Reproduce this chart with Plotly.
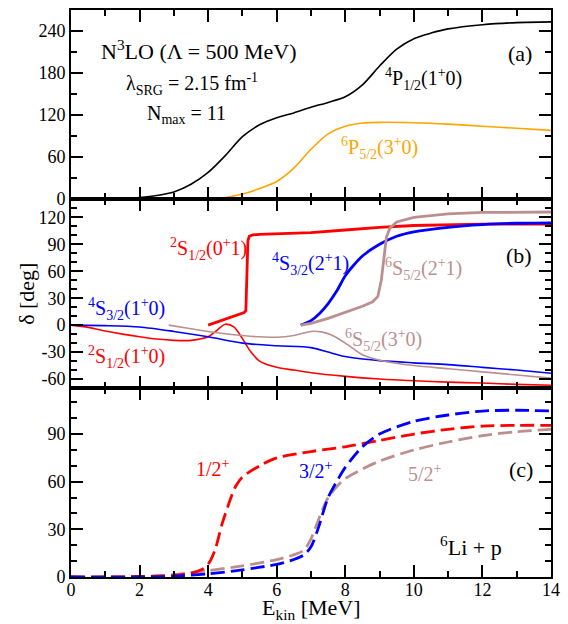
import plotly.graph_objects as go
from plotly.subplots import make_subplots

# ---------------- data ----------------
# Panel (a)
p12_x = [1.5, 2, 2.5, 3, 3.5, 4, 4.5, 5, 5.5, 6, 6.5, 7, 7.5, 8, 8.5, 9, 9.5, 10, 10.5, 11, 12, 13, 14]
p12_y = [0, 2, 5, 10, 21, 38, 62, 89, 106, 116, 123, 131, 138, 146, 163, 190, 214, 229, 237, 243, 249, 252, 253]
p52_x = [4, 4.5, 5, 5.5, 6, 6.5, 7, 7.5, 8, 8.5, 9, 10, 11, 12, 13, 14]
p52_y = [0, 2, 7, 15, 25, 44, 71, 93, 104, 108.5, 109.5, 109, 107, 104, 101, 98]

# Panel (b)
s12_01_x = [4.0, 4.3, 4.6, 4.9, 5.05, 5.1, 5.13, 5.16, 5.2, 5.3, 5.5, 6, 7, 8, 9, 10, 11, 12, 13, 14]
s12_01_y = [0, 4, 8, 12, 14, 16, 50, 94, 99, 100.5, 101, 101.5, 103, 106, 109, 111, 112, 112.5, 112.5, 112.5]
s12_10_x = [0, 0.5, 1, 1.5, 2, 2.5, 3, 3.5, 4, 4.25, 4.5, 4.75, 5, 5.25, 5.5, 6, 6.5, 7, 8, 9, 10, 11, 12, 13, 14]
s12_10_y = [0, -2.5, -6.5, -10, -13, -15.5, -17, -17, -13, -6, 1, -2, -15, -30, -40, -47, -50, -53, -57, -60, -62, -63.5, -64.5, -66, -67]
s32_10_x = [0, 1, 2, 3, 4, 5, 6, 7, 7.5, 8, 9, 10, 11, 12, 13, 14]
s32_10_y = [0, -0.5, -2, -7, -13, -20, -23, -25, -30, -35, -39.5, -42, -44, -47, -50, -53.5]
s52_30_x = [2.85, 3.5, 4, 4.5, 5, 5.5, 6, 6.5, 7, 7.3, 7.6, 8, 8.5, 9, 10, 11, 12, 13, 14]
s52_30_y = [0, -4, -7, -9.5, -11.5, -13, -13.5, -11.5, -7, -7.5, -11, -20, -33, -39, -45, -48.5, -52, -55.5, -59]
s32_21_x = [6.7, 7, 7.25, 7.5, 7.75, 8, 8.25, 8.5, 9, 9.5, 10, 11, 12, 13, 14]
s32_21_y = [0, 5, 13, 24, 38, 55, 67, 77, 90, 99, 104, 109, 112, 113.5, 114]
s52_21_x = [6.7, 7, 7.5, 8, 8.5, 8.8, 8.95, 9.05, 9.12, 9.2, 9.3, 9.5, 10, 11, 12, 13, 14]
s52_21_y = [0, 2, 7.5, 14, 21, 26, 32, 50, 75, 98, 108, 115, 120, 124, 125.5, 126, 126]

# Panel (c)
e12_x = [0, 1, 2, 3, 3.5, 3.8, 4, 4.2, 4.4, 4.6, 4.8, 5, 5.5, 6, 7, 8, 9, 10, 11, 12, 13, 14]
e12_y = [0, 0, 0.3, 1, 2.5, 4.5, 8, 17, 33, 46, 57, 63, 70, 75, 79, 82, 86, 90, 93, 95, 95.5, 95.5]
e32_x = [0, 2, 3, 4, 5, 6, 6.5, 6.8, 7, 7.2, 7.5, 7.8, 8, 8.5, 9, 10, 11, 12, 13, 14]
e32_y = [0, 0, 0.5, 2, 4.5, 8, 11, 14, 19, 30, 50, 62, 69, 82, 90, 98, 102, 104.5, 105, 104.5]
e52_x = [0, 2, 3, 4, 5, 6, 6.5, 6.8, 7, 7.2, 7.5, 7.8, 8, 8.5, 9, 10, 11, 12, 13, 14]
e52_y = [0, 0.3, 1.5, 4, 7, 11, 14, 17, 24, 35, 50, 58, 62, 68, 73, 80, 85, 89, 91.5, 93]

x_ticks = [0, 2, 4, 6, 8, 10, 12, 14]
ya_ticks = [0, 60, 120, 180, 240]
yb_ticks = [-60, -30, 0, 30, 60, 90, 120]
yb_text = ["-60", "-30", "0", "30", "60", "90", "120"]
yc_ticks = [0, 30, 60, 90]

BLACK = "#000000"
ORANGE = "#FFA500"
RED = "#FF0000"
BLUE = "#0000FF"
ROSY = "#BC8F8F"
FONT = "Liberation Serif, Times New Roman, serif"

fig = make_subplots(rows=3, cols=1, shared_xaxes=True, vertical_spacing=0)

def add(x, y, color, width, row, dash="solid", shape="spline"):
    fig.add_trace(go.Scatter(x=x, y=y, mode="lines",
                             line=dict(color=color, width=width, dash=dash, shape=shape, smoothing=0.8),
                             showlegend=False, hoverinfo="skip"), row=row, col=1)

add(p12_x, p12_y, BLACK, 1.6, 1)
add(p52_x, p52_y, ORANGE, 1.6, 1)

add(s12_10_x, s12_10_y, RED, 1.6, 2)
add(s32_10_x, s32_10_y, BLUE, 1.6, 2)
add(s52_30_x, s52_30_y, ROSY, 1.6, 2)
add(s12_01_x, s12_01_y, RED, 2.8, 2, shape="linear")
add(s32_21_x, s32_21_y, BLUE, 2.8, 2)
add(s52_21_x, s52_21_y, ROSY, 2.8, 2, shape="linear")

DASH = "14px,6px"
add(e52_x, e52_y, ROSY, 2.8, 3, dash=DASH)
add(e12_x, e12_y, RED, 2.8, 3, dash=DASH)
add(e32_x, e32_y, BLUE, 2.8, 3, dash=DASH)

axis_common = dict(showline=True, linewidth=2, linecolor="black", mirror="ticks",
                   ticks="inside", ticklen=12, tickwidth=2, tickcolor="black",
                   showgrid=False, zeroline=False,
                   tickfont=dict(family=FONT, size=18, color="black"))

for i in (1, 2, 3):
    fig.update_xaxes(range=[0, 14], tickvals=x_ticks,
                     minor=dict(dtick=1, tick0=0, ticks="inside", ticklen=6, tickwidth=2, tickcolor="black"),
                     **axis_common, row=i, col=1)
fig.update_xaxes(ticklabelstandoff=-5, row=3, col=1)

fig.update_yaxes(range=[0, 270], tickvals=ya_ticks,
                 minor=dict(dtick=30, tick0=0, ticks="inside", ticklen=6, tickwidth=2, tickcolor="black"),
                 **axis_common, row=1, col=1)
fig.update_yaxes(range=[-70, 140.5], tickvals=yb_ticks, ticktext=yb_text,
                 minor=dict(dtick=10, tick0=0, ticks="inside", ticklen=6, tickwidth=2, tickcolor="black"),
                 **axis_common, row=2, col=1)
fig.update_yaxes(range=[0, 119], tickvals=yc_ticks,
                 minor=dict(dtick=10, tick0=0, ticks="inside", ticklen=6, tickwidth=2, tickcolor="black"),
                 **axis_common, row=3, col=1)

def ann(text, x, y, xref, yref, color="black", size=20, **kw):
    fig.add_annotation(text=text, x=x, y=y, xref=xref, yref=yref, showarrow=False,
                       xanchor="center", yanchor="middle",
                       font=dict(family=FONT, size=size, color=color), **kw)

# panel (a)
ann("N<sup>3</sup>LO (Λ = 500 MeV)", 3.72, 213, "x", "y", size=22)
ann("λ<sub>SRG</sub> = 2.15 fm<sup>-1</sup>", 3.52, 165, "x", "y", size=20)
ann("N<sub>max</sub> = 11", 3.37, 121, "x", "y", size=20)
ann("(a)", 13.1, 208, "x", "y", size=22)
ann("<sup>4</sup>P<sub>1/2</sub>(1<sup>+</sup>0)", 10.29, 171, "x", "y", size=20)
ann("<sup>6</sup>P<sub>5/2</sub>(3<sup>+</sup>0)", 9.0, 73, "x", "y", color=ORANGE, size=20)

# panel (b)
ann("<sup>2</sup>S<sub>1/2</sub>(0<sup>+</sup>1)", 4.0, 85, "x2", "y2", color=RED, size=20)
ann("<sup>4</sup>S<sub>3/2</sub>(2<sup>+</sup>1)", 6.99, 68, "x2", "y2", color=BLUE, size=20)
ann("<sup>6</sup>S<sub>5/2</sub>(2<sup>+</sup>1)", 10.28, 63, "x2", "y2", color=ROSY, size=20)
ann("<sup>4</sup>S<sub>3/2</sub>(1<sup>+</sup>0)", 1.62, 18.5, "x2", "y2", color=BLUE, size=20)
ann("<sup>2</sup>S<sub>1/2</sub>(1<sup>+</sup>0)", 1.62, -35, "x2", "y2", color=RED, size=20)
ann("<sup>6</sup>S<sub>5/2</sub>(3<sup>+</sup>0)", 9.1, -16.6, "x2", "y2", color=ROSY, size=20)
ann("(b)", 13.06, 77.6, "x2", "y2", size=22)

# panel (c)
ann("1/2<sup>+</sup>", 4.13, 68.6, "x3", "y3", color=RED, size=20)
ann("3/2<sup>+</sup>", 7.16, 67.5, "x3", "y3", color=BLUE, size=20)
ann("5/2<sup>+</sup>", 10.32, 65.5, "x3", "y3", color=ROSY, size=20)
ann("(c)", 13.13, 67.5, "x3", "y3", size=22)
ann("<sup>6</sup>Li + p", 11.66, 19.3, "x3", "y3", size=22)

# axis titles
ann("δ [deg]", -0.093, 0.5, "paper", "paper", size=22, textangle=-90)
ann("E<sub>kin</sub> [MeV]", 7.0, -0.057, "x3", "paper", size=22)

fig.update_layout(width=568, height=624, margin=dict(l=71, r=12, t=8, b=47),
                  paper_bgcolor="white", plot_bgcolor="white",
                  font=dict(family=FONT, color="black"))

fig.write_html("out.html", config={"displayModeBar": False})

# remove the default page margin so the figure sits at the window origin
with open("out.html", "r", encoding="utf-8") as f:
    html = f.read()
html = html.replace("<body>", '<body style="margin:0;padding:0;overflow:hidden">', 1)
with open("out.html", "w", encoding="utf-8") as f:
    f.write(html)
